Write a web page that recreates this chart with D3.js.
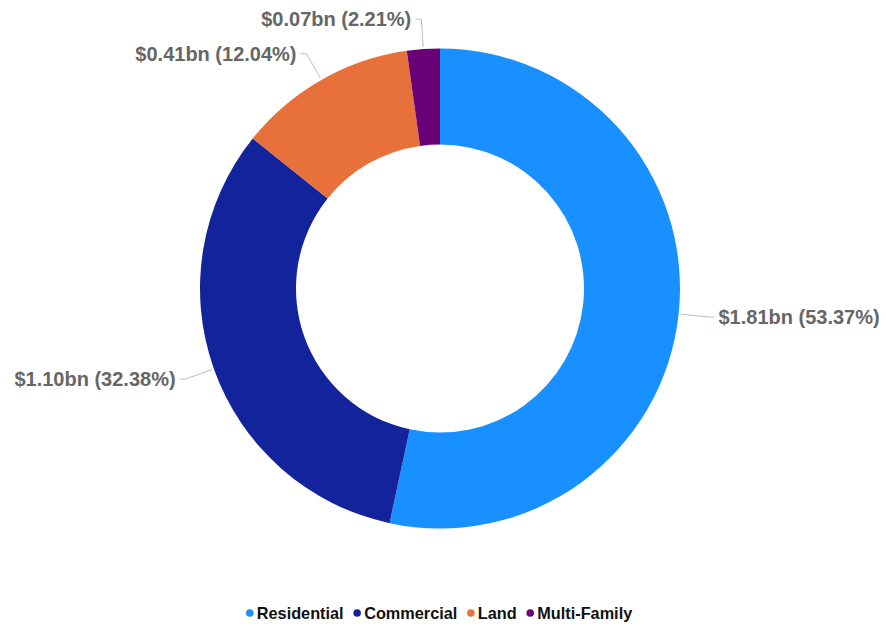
<!DOCTYPE html>
<html>
<head>
<meta charset="utf-8">
<script src="https://cdn.jsdelivr.net/npm/d3@7"></script>
<style>
  html, body { margin: 0; padding: 0; background: #fff; }
  svg { display: block; }
  svg text { font-family: Arial, "Liberation Sans", sans-serif; }
</style>
</head>
<body>
<svg id="chart" width="886" height="627"></svg>
<script>
// Loan volume by property type (billions of dollars)
const categories = ["Residential", "Commercial", "Land", "Multi-Family"];
const values = [1.81, 1.10, 0.41, 0.07];
const shares = [53.37, 32.38, 12.04, 2.21];
const colors = ["#1890ff", "#13239c", "#e8703a", "#6a0078"];

const width = 886, height = 627;
const cx = 440, cy = 288.5;
const outerR = 240, innerR = 144;

const svg = d3.select("#chart");
const g = svg.append("g").attr("transform", `translate(${cx},${cy})`);

const pie = d3.pie().sort(null).value((d, i) => shares[i]);
const arcs = pie(categories);

const arc = d3.arc().innerRadius(innerR).outerRadius(outerR);

g.selectAll("path.slice")
  .data(arcs)
  .join("path")
  .attr("class", "slice")
  .attr("d", arc)
  .attr("fill", (d, i) => colors[i]);

// Leader lines and value labels
const len1 = 30, len2 = 6, gap = 4;
const pt = (a, r) => [Math.sin(a) * r, -Math.cos(a) * r];

arcs.forEach((d, i) => {
  const mid = (d.startAngle + d.endAngle) / 2;
  const p0 = pt(mid, outerR + 2);
  const p1 = pt(mid, outerR + len1);
  const right = Math.sin(mid) >= 0;
  const p2 = [p1[0] + (right ? len2 : -len2), p1[1]];

  g.append("polyline")
    .attr("points", [p0, p1, p2].map(p => p.join(",")).join(" "))
    .attr("fill", "none")
    .attr("stroke", "#bdbdbd")
    .attr("stroke-width", 1);

  g.append("text")
    .attr("x", p2[0] + (right ? gap : -gap))
    .attr("y", p2[1])
    .attr("dy", "0.35em")
    .attr("text-anchor", right ? "start" : "end")
    .attr("font-size", "20px")
    .attr("font-weight", "bold")
    .attr("fill", "#666")
    .text(`$${values[i].toFixed(2)}bn (${shares[i].toFixed(2)}%)`);
});

// Legend
const legend = svg.append("g");
const legendY = 613;
let x = 0;
categories.forEach((c, i) => {
  const item = legend.append("g").attr("transform", `translate(${x},0)`);
  item.append("circle").attr("cx", 4).attr("cy", legendY).attr("r", 3.8).attr("fill", colors[i]);
  const t = item.append("text")
    .attr("x", 11)
    .attr("y", legendY)
    .attr("dy", "0.35em")
    .attr("font-size", "16.3px")
    .attr("font-weight", "bold")
    .attr("fill", "#111")
    .text(c);
  x += 11 + t.node().getComputedTextLength() + 9.5;
});
const totalW = x - 9.5;
legend.attr("transform", `translate(${cx - 1 - totalW / 2},0)`);
</script>
</body>
</html>
